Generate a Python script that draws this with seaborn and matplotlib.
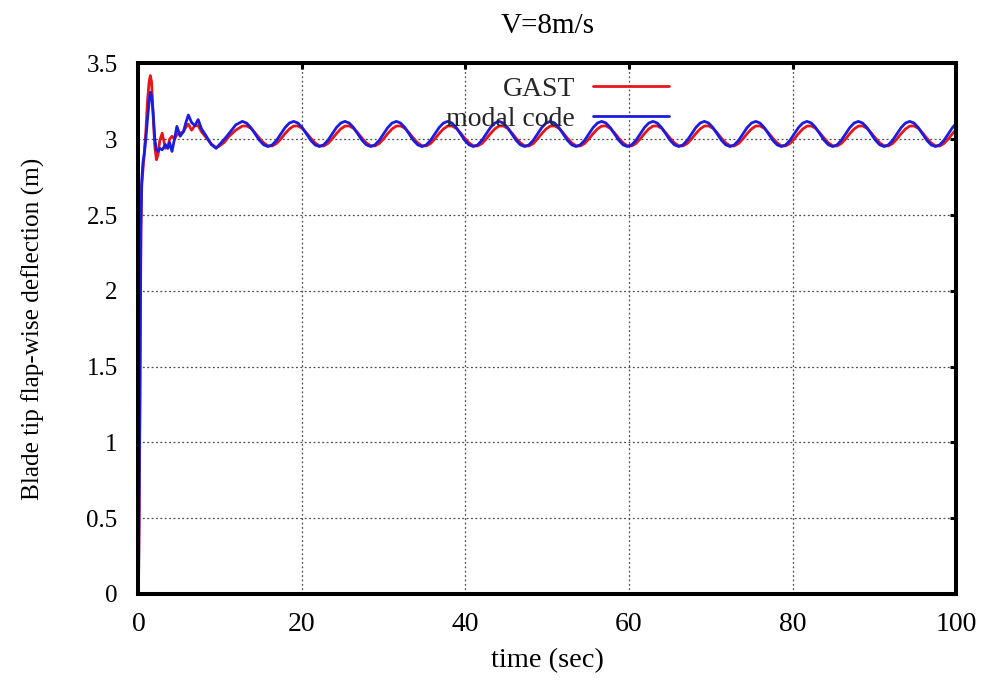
import numpy as np
import pandas as pd
import matplotlib
matplotlib.use("Agg")
import matplotlib.pyplot as plt
import seaborn as sns

# ---------------- data ----------------
time_transient = [0.0, 0.08, 0.15, 0.22, 0.30, 0.40, 0.55, 0.70, 0.90, 1.10,
                  1.30, 1.45, 1.60, 1.80, 2.00, 2.20, 2.40, 2.60, 2.90, 3.30,
                  3.60, 3.80, 4.10, 4.40, 4.70, 5.10, 5.50, 5.80, 6.10, 6.50,
                  6.90, 7.30, 7.70, 8.30, 8.90, 9.50, 9.90, 10.50, 11.10, 11.90,
                  12.70]
gast_transient = [0.0, 0.5, 1.0, 1.7, 2.4, 2.7, 2.8, 2.9, 3.05, 3.25,
                  3.38, 3.42, 3.38, 3.15, 2.95, 2.865, 2.9, 2.99, 3.04, 2.94,
                  2.95, 3.0, 3.02, 3.0, 3.03, 3.04, 3.05, 3.08, 3.10, 3.06,
                  3.09, 3.09, 3.05, 3.01, 2.97, 2.945, 2.955, 2.98, 3.02, 3.06,
                  3.087]
modal_transient = [0.0, 0.6, 1.1, 1.8, 2.45, 2.72, 2.85, 2.9, 3.0, 3.13,
                   3.25, 3.31, 3.29, 3.17, 3.0, 2.93, 2.92, 2.94, 2.93, 2.965,
                   2.94, 2.98, 2.92, 3.0, 3.085, 3.02, 3.05, 3.11, 3.16, 3.11,
                   3.09, 3.13, 3.07, 3.02, 2.965, 2.94, 2.965, 3.0, 3.04, 3.095,
                   3.118]

time_steady = [
    13.22, 13.75, 14.27, 14.79, 15.32, 15.84, 16.36, 16.89, 17.41, 17.93, 18.46, 18.98,
    19.50, 20.03, 20.55, 21.07, 21.60, 22.12, 22.64, 23.17, 23.69, 24.21, 24.74, 25.26,
    25.78, 26.31, 26.83, 27.35, 27.88, 28.40, 28.92, 29.45, 29.97, 30.49, 31.02, 31.54,
    32.06, 32.59, 33.11, 33.63, 34.16, 34.68, 35.20, 35.73, 36.25, 36.77, 37.30, 37.82,
    38.34, 38.87, 39.39, 39.91, 40.44, 40.96, 41.48, 42.01, 42.53, 43.05, 43.58, 44.10,
    44.62, 45.15, 45.67, 46.19, 46.72, 47.24, 47.76, 48.29, 48.81, 49.33, 49.86, 50.38,
    50.90, 51.43, 51.95, 52.47, 53.00, 53.52, 54.04, 54.57, 55.09, 55.61, 56.14, 56.66,
    57.18, 57.71, 58.23, 58.75, 59.28, 59.80, 60.32, 60.85, 61.37, 61.89, 62.42, 62.94,
    63.46, 63.99, 64.51, 65.03, 65.56, 66.08, 66.60, 67.13, 67.65, 68.17, 68.70, 69.22,
    69.74, 70.27, 70.79, 71.31, 71.84, 72.36, 72.88, 73.41, 73.93, 74.45, 74.98, 75.50,
    76.02, 76.55, 77.07, 77.59, 78.12, 78.64, 79.16, 79.69, 80.21, 80.73, 81.26, 81.78,
    82.30, 82.83, 83.35, 83.87, 84.40, 84.92, 85.44, 85.97, 86.49, 87.01, 87.54, 88.06,
    88.58, 89.11, 89.63, 90.15, 90.68, 91.20, 91.72, 92.25, 92.77, 93.29, 93.82, 94.34,
    94.86, 95.39, 95.91, 96.43, 96.96, 97.48, 98.00, 98.53, 99.05, 99.57, 100.0,
]
gast_steady = [
    3.088, 3.072, 3.042, 3.007, 2.976, 2.957, 2.956, 2.972, 3.002, 3.037, 3.068, 3.087,
    3.088, 3.072, 3.042, 3.007, 2.976, 2.957, 2.956, 2.972, 3.002, 3.037, 3.068, 3.087,
    3.088, 3.072, 3.042, 3.007, 2.976, 2.957, 2.956, 2.972, 3.002, 3.037, 3.068, 3.087,
    3.088, 3.072, 3.042, 3.007, 2.976, 2.957, 2.956, 2.972, 3.002, 3.037, 3.068, 3.087,
    3.088, 3.072, 3.042, 3.007, 2.976, 2.957, 2.956, 2.972, 3.002, 3.037, 3.068, 3.087,
    3.088, 3.072, 3.042, 3.007, 2.976, 2.957, 2.956, 2.972, 3.002, 3.037, 3.068, 3.087,
    3.088, 3.072, 3.042, 3.007, 2.976, 2.957, 2.956, 2.972, 3.002, 3.037, 3.068, 3.087,
    3.088, 3.072, 3.042, 3.007, 2.976, 2.957, 2.956, 2.972, 3.002, 3.037, 3.068, 3.087,
    3.088, 3.072, 3.042, 3.007, 2.976, 2.957, 2.956, 2.972, 3.002, 3.037, 3.068, 3.087,
    3.088, 3.072, 3.042, 3.007, 2.976, 2.957, 2.956, 2.972, 3.002, 3.037, 3.068, 3.087,
    3.088, 3.072, 3.042, 3.007, 2.976, 2.957, 2.956, 2.972, 3.002, 3.037, 3.068, 3.087,
    3.088, 3.072, 3.042, 3.007, 2.976, 2.957, 2.956, 2.972, 3.002, 3.037, 3.068, 3.087,
    3.088, 3.072, 3.042, 3.007, 2.976, 2.957, 2.956, 2.972, 3.002, 3.037, 3.068, 3.087,
    3.088, 3.072, 3.042, 3.007, 2.976, 2.957, 2.956, 2.972, 3.002, 3.037, 3.063,
]
modal_steady = [
    3.107, 3.077, 3.035, 2.993, 2.963, 2.952, 2.963, 2.993, 3.035, 3.077, 3.107, 3.118,
    3.107, 3.077, 3.035, 2.993, 2.963, 2.952, 2.963, 2.993, 3.035, 3.077, 3.107, 3.118,
    3.107, 3.077, 3.035, 2.993, 2.963, 2.952, 2.963, 2.993, 3.035, 3.077, 3.107, 3.118,
    3.107, 3.077, 3.035, 2.993, 2.963, 2.952, 2.963, 2.993, 3.035, 3.077, 3.107, 3.118,
    3.107, 3.077, 3.035, 2.993, 2.963, 2.952, 2.963, 2.993, 3.035, 3.077, 3.107, 3.118,
    3.107, 3.077, 3.035, 2.993, 2.963, 2.952, 2.963, 2.993, 3.035, 3.077, 3.107, 3.118,
    3.107, 3.077, 3.035, 2.993, 2.963, 2.952, 2.963, 2.993, 3.035, 3.077, 3.107, 3.118,
    3.107, 3.077, 3.035, 2.993, 2.963, 2.952, 2.963, 2.993, 3.035, 3.077, 3.107, 3.118,
    3.107, 3.077, 3.035, 2.993, 2.963, 2.952, 2.963, 2.993, 3.035, 3.077, 3.107, 3.118,
    3.107, 3.077, 3.035, 2.993, 2.963, 2.952, 2.963, 2.993, 3.035, 3.077, 3.107, 3.118,
    3.107, 3.077, 3.035, 2.993, 2.963, 2.952, 2.963, 2.993, 3.035, 3.077, 3.107, 3.118,
    3.107, 3.077, 3.035, 2.993, 2.963, 2.952, 2.963, 2.993, 3.035, 3.077, 3.107, 3.118,
    3.107, 3.077, 3.035, 2.993, 2.963, 2.952, 2.963, 2.993, 3.035, 3.077, 3.107, 3.118,
    3.107, 3.077, 3.035, 2.993, 2.963, 2.952, 2.963, 2.993, 3.035, 3.077, 3.103,
]

series_names = ["GAST", "modal code"]
series_colors = ["#e5161c", "#1c1ce0"]
x_ticks = [0, 20, 40, 60, 80, 100]
y_ticks = [0, 0.5, 1, 1.5, 2, 2.5, 3, 3.5]
y_tick_labels = ["0", "0.5", "1", "1.5", "2", "2.5", "3", "3.5"]

df = pd.DataFrame({
    "time": time_transient + time_steady,
    "GAST": gast_transient + gast_steady,
    "modal code": modal_transient + modal_steady,
})

# ---------------- style ----------------
sns.set_theme(style="white")
plt.rcParams["font.family"] = ["Liberation Serif", "DejaVu Serif"]

fig = plt.figure(figsize=(9.87, 6.84), dpi=100)
ax = fig.add_axes([0.1403, 0.1316, 0.9686 - 0.1403, 0.9072 - 0.1316])

for name, col in zip(series_names, series_colors):
    sns.lineplot(data=df, x="time", y=name, color=col, linewidth=2.0,
                 label=name, ax=ax, estimator=None, sort=False)

ax.set_xlim(0, 100)
ax.set_ylim(0, 3.5)
ax.set_xticks(x_ticks)
ax.set_xticklabels([str(v) for v in x_ticks])
ax.set_yticks(y_ticks)
ax.set_yticklabels(y_tick_labels)

ax.grid(True, linestyle=(0, (1.5, 2.0)), color="0.3", linewidth=0.9)
for s in ax.spines.values():
    s.set_visible(True)
    s.set_color("black")
    s.set_linewidth(2.9)
ax.tick_params(axis="both", which="major", direction="in", length=4.5, width=2.2,
               top=True, right=True, colors="black")
ax.tick_params(axis="x", labelsize=20, pad=13)
ax.tick_params(axis="y", labelsize=18, pad=15)

ax.set_xlabel("time (sec)", fontsize=20.5, labelpad=8, color="black")
ax.set_ylabel("Blade tip flap-wise deflection (m)", fontsize=18.2, labelpad=30,
              color="black")
ax.set_title("V=8m/s", fontsize=21, pad=22, color="black")

leg = ax.legend(loc="upper right", bbox_to_anchor=(0.649, 0.976),
                markerfirst=False, frameon=False, fontsize=20,
                handlelength=2.73, handletextpad=0.65, labelspacing=0.18,
                borderpad=0, borderaxespad=0)

fig.savefig("out.png", dpi=100)
